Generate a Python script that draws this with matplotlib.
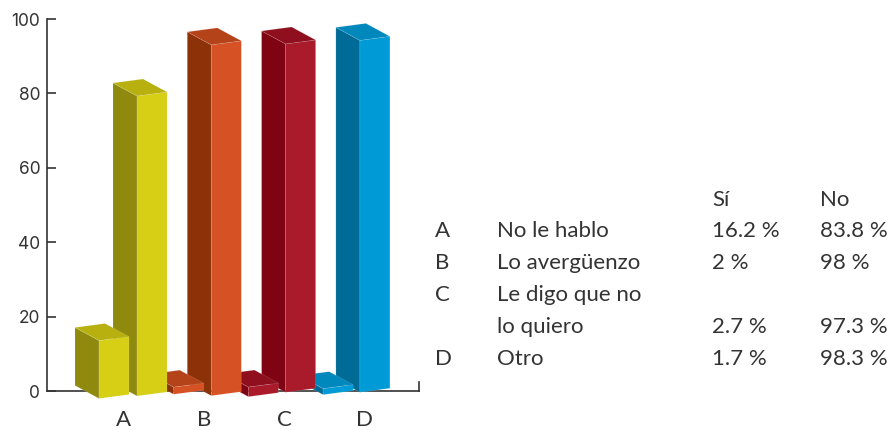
"""
Barras 3D Si / No por respuesta, con la tabla de porcentajes a la derecha.
"""

import matplotlib
matplotlib.use("Agg")
import matplotlib.pyplot as plt
from matplotlib.patches import Polygon

categories = ["A", "B", "C", "D"]
answers = ["No le hablo", "Lo avergüenzo", "Le digo que no", "lo quiero", "Otro"]
si_values = [16.2, 2, 2.7, 1.7]
no_values = [83.8, 98, 97.3, 98.3]
y_ticks = [0, 20, 40, 60, 80, 100]

# table rows: letter, answer, si, no
table_letters = ["A", "B", "C", "", "D"]
table_si = ["16.2 %", "2 %", "", "2.7 %", "1.7 %"]
table_no = ["83.8 %", "98 %", "", "97.3 %", "98.3 %"]

# colours per category: front, side, top
front_colors = ["#D6CF16", "#D65124", "#A91A2A", "#009BD6"]
side_colors = ["#8F8A0E", "#8C3108", "#7F0312", "#006B96"]
top_colors = ["#B7B00F", "#B5431A", "#8F0F1E", "#0088BD"]

# how far each bar foot hangs below the axis line, in pixels
si_drop = [7.5, 3.3, 5.7, 3.7]
no_drop = [5.0, 4.7, 1.3, 1.3]

W, H = 890, 430
AX_LEFT, AX_RIGHT, AX_TOP, AX_BOTTOM = 46.5, 419, 19, 391
CAT_PX = 80
UNIT_PX = (AX_BOTTOM - AX_TOP) / 100
BAR_PX = 3.58
TEXT_COLOR = "#333333"
TEXT_FONT = ["Lato", "DejaVu Sans"]


def draw_bar(ax, front_x, drop, value, i):
    """Draw one oblique bar from its front corner, everything else in px offsets."""
    def pt(dx, dy):
        return (front_x + dx / CAT_PX, dy / UNIT_PX)

    foot = -drop
    head = foot + value * BAR_PX
    faces = [
        ([pt(-24, foot + 13), pt(0, foot), pt(0, head), pt(-24, head + 13)], side_colors[i]),
        ([pt(0, foot), pt(30, foot + 4), pt(30, head + 4), pt(0, head)], front_colors[i]),
        ([pt(0, head), pt(30, head + 4), pt(6, head + 17), pt(-24, head + 13)], top_colors[i]),
    ]
    for verts, color in faces:
        ax.add_patch(Polygon(verts, closed=True, facecolor=color, edgecolor=(1, 1, 1, 0.15),
                             linewidth=0.5, clip_on=False, zorder=3))


fig = plt.figure(figsize=(W / 100, H / 100), dpi=100)
ax = fig.add_axes([AX_LEFT / W, 1 - AX_BOTTOM / H, (AX_RIGHT - AX_LEFT) / W, (AX_BOTTOM - AX_TOP) / H])
ax.set_xlim((AX_LEFT - 124) / CAT_PX, (AX_RIGHT - 124) / CAT_PX)
ax.set_ylim(0, 100)

# right to left so the nearer bars cover the ones behind
for i in reversed(range(len(categories))):
    draw_bar(ax, (137 - 124) / CAT_PX + i * 74.3 / CAT_PX, no_drop[i], no_values[i], i)
    draw_bar(ax, (99 - 124) / CAT_PX + i * 74.7 / CAT_PX, si_drop[i], si_values[i], i)

for side in ["left", "bottom", "right"]:
    ax.spines[side].set_color(TEXT_COLOR)
    ax.spines[side].set_linewidth(1.2)
    ax.spines[side].set_zorder(1)
ax.spines["top"].set_visible(False)
ax.spines["right"].set_bounds(0, 2.4)

ax.set_yticks(y_ticks)
ax.tick_params(axis="y", direction="in", length=6.5, width=1.2, color=TEXT_COLOR, pad=4.5,
               labelsize=12.5, labelcolor=TEXT_COLOR)
for label in ax.get_yticklabels():
    label.set_family(["Inter", "DejaVu Sans"])

ax.set_xticks(range(len(categories)))
ax.set_xticklabels(categories, family=TEXT_FONT, fontsize=16, color=TEXT_COLOR)
ax.tick_params(axis="x", length=0, pad=14)


def table_text(x, y, s):
    fig.text(x / W, 1 - y / H, s, family=TEXT_FONT, fontsize=16, color=TEXT_COLOR,
             ha="left", va="baseline")


table_text(712, 206, "Sí")
table_text(820, 206, "No")
row_y = [237, 269, 301, 333, 365]
for k, y in enumerate(row_y):
    table_text(435, y, table_letters[k])
    table_text(497, y, answers[k])
    table_text(712, y, table_si[k])
    table_text(820, y, table_no[k])

fig.savefig("out.png", dpi=100)
